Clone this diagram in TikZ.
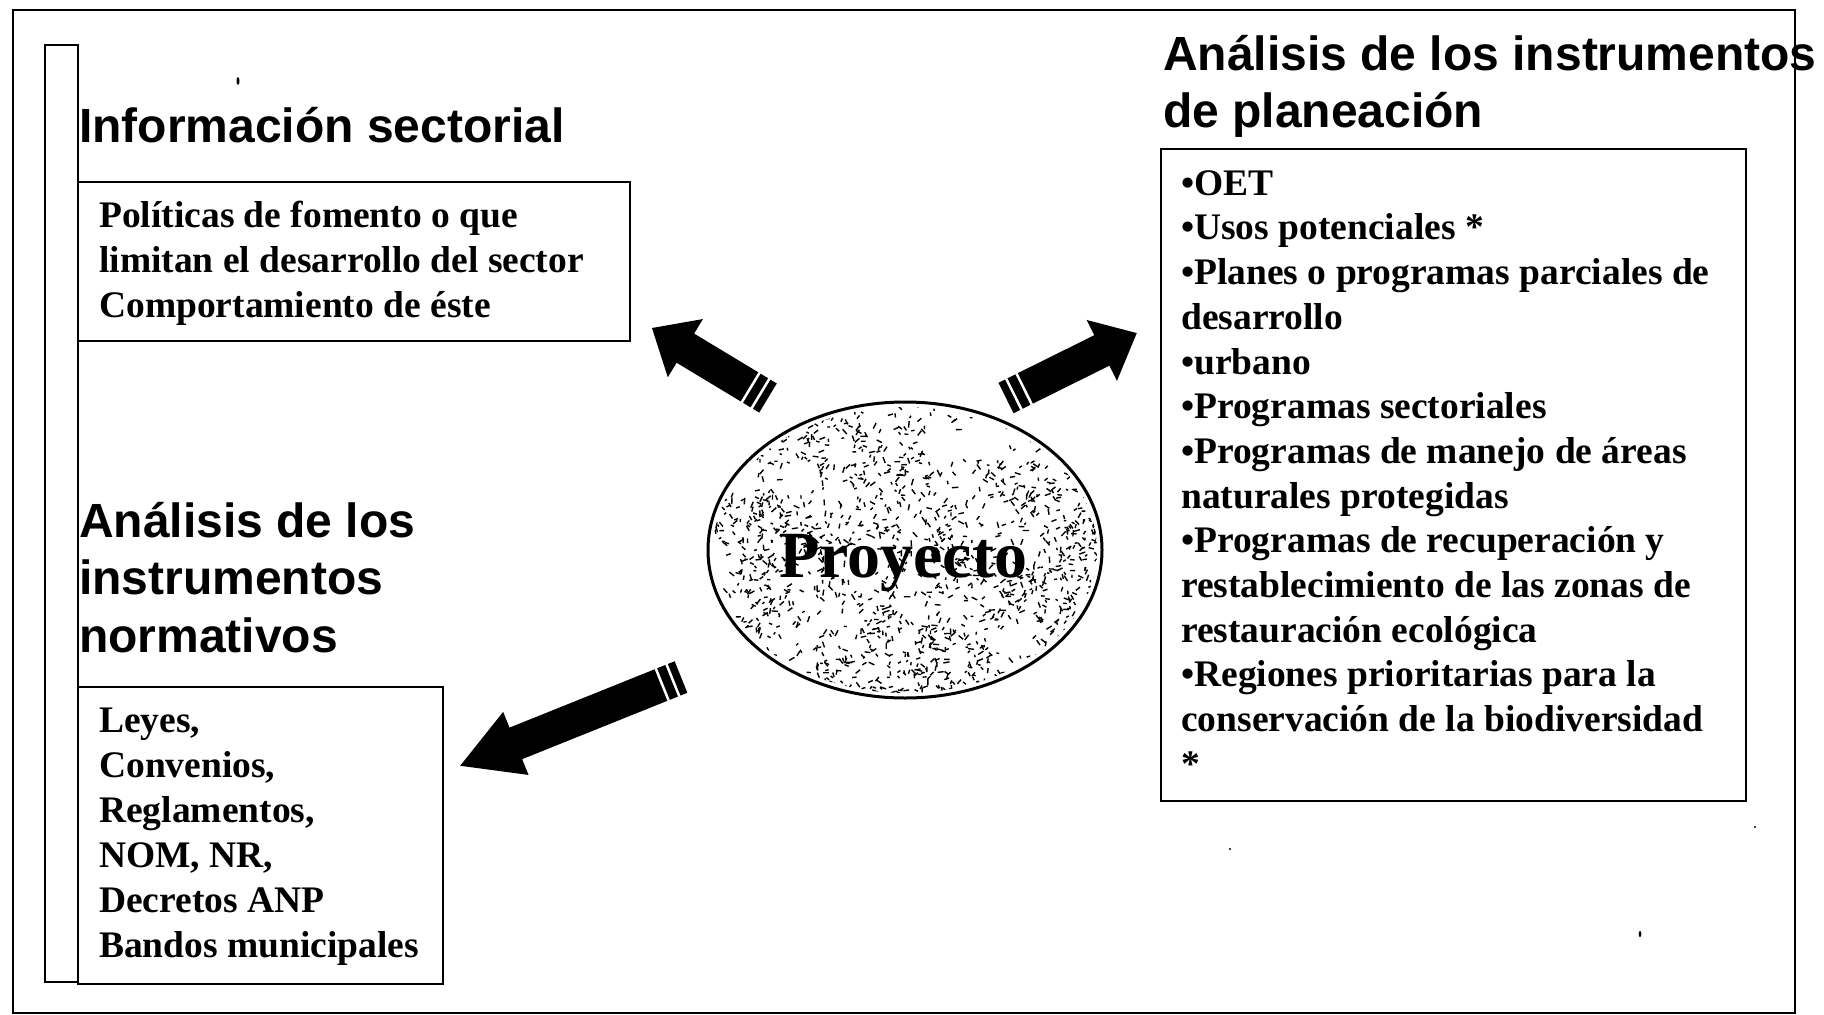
\documentclass[tikz,border=0pt]{standalone}
\usepackage{fontspec}
\setmainfont{Liberation Serif}
\newfontfamily\headfont{Liberation Sans}
\usetikzlibrary{shapes.geometric}
\newcommand\blockarrow[4]{%
  \begin{scope}[shift={(#1)}, rotate=#2]
    \fill (0,-17) -- ({#3-#4},-17) -- ({#3-#4},-34) -- (#3,0) -- ({#3-#4},34) -- ({#3-#4},17) -- (0,17) -- cycle;
    \fill[white] (7.5,-19) rectangle (10,19);
    \fill[white] (19,-19) rectangle (21.5,19);
  \end{scope}}
\begin{document}
\begin{tikzpicture}[x=1pt,y=-1pt,
  frame/.style={draw, line width=2.2pt},
  infobox/.style={draw, line width=2pt, anchor=north west, inner sep=0pt},
  headtxt/.style={anchor=north west, inner sep=0pt, align=left, font={\headfont\bfseries\fontsize{48}{57.5}\selectfont}},
  bodytxt/.style={anchor=north west, inner sep=0pt, align=left, font={\bfseries\fontsize{37.5}{45}\selectfont}},
  speck/.style={line width=1.4pt}
]
\useasboundingbox (0,0) rectangle (1824,1015);
\fill[white] (0,0) rectangle (1824,1015);

% outer frame and inner bar
\node[frame, anchor=north west, inner sep=0pt, minimum width=1782pt, minimum height=1003pt] (outer) at (12,9) {};
\node[draw, line width=2pt, anchor=north west, inner sep=0pt, minimum width=33pt, minimum height=937pt] (bar) at (44,44) {};

% titles
\node[headtxt] (h1) at (79,94) {\rule{0pt}{1em}Información sectorial};
\node[headtxt] (h2) at (79,489) {\rule{0pt}{1em}Análisis de los\\instrumentos\\normativos};
\node[headtxt] (h3) at (1163,22) {\rule{0pt}{1em}Análisis de los instrumentos\\de planeación};

% boxes
\node[infobox, minimum width=552pt, minimum height=159pt] (b1) at (77,181) {};
\node[infobox, minimum width=365pt, minimum height=297pt] (b3) at (77,686) {};
\node[infobox, minimum width=585pt, minimum height=652pt] (b2) at (1160,148) {};

\node[bodytxt] (t1) at (99,189.5) {\rule{0pt}{1em}Políticas de fomento o que\\limitan el desarrollo del sector\\Comportamiento de éste};
\node[bodytxt] (t3) at (99,694.5) {\rule{0pt}{1em}Leyes,\\Convenios,\\Reglamentos,\\NOM, NR,\\Decretos ANP\\Bandos municipales};
\node[bodytxt, font={\bfseries\fontsize{37.5}{44.7}\selectfont}] (t2) at (1181,157.5) {\rule{0pt}{1em}•OET\\•Usos potenciales *\\•Planes o programas parciales de\\desarrollo\\•urbano\\•Programas sectoriales\\•Programas de manejo de áreas\\naturales protegidas\\•Programas de recuperación y\\restablecimiento de las zonas de\\restauración ecológica\\•Regiones prioritarias para la\\conservación de la biodiversidad\\*};

% project ellipse with clustered speckles
\pgfmathsetseed{4711}
\begin{scope}
  \clip (905,550) ellipse [x radius=192, y radius=143];
  \foreach \i in {1,...,420}{
    \pgfmathsetmacro\cx{708+394*rnd}
    \pgfmathsetmacro\cy{402+296*rnd}
    \foreach \j in {1,...,4}{
      \pgfmathsetmacro\sx{\cx+14*rand}
      \pgfmathsetmacro\sy{\cy+14*rand}
      \pgfmathsetmacro\sa{360*rnd}
      \pgfmathsetmacro\sl{2.5+4*rnd}
      \draw[speck] (\sx,\sy) -- ++(\sa:\sl);
    }
  }
\end{scope}
\node[ellipse, draw, line width=3pt, minimum width=394pt, minimum height=296pt, inner sep=0pt] (proj) at (905,550) {};
\node[anchor=base, inner sep=0pt, font={\bfseries\fontsize{66}{70}\selectfont}] (projlabel) at (903,577) {Proyecto};

% block arrows
\coordinate (a1) at (768,398);
\coordinate (a2) at (1006,398);
\coordinate (a3) at (681,677);
\blockarrow{a1}{148.9}{135.5}{39}
\blockarrow{a2}{26.4}{146}{39}
\blockarrow{a3}{201.9}{238}{60}

% scan marks
\fill (238,81) ellipse [x radius=1.5, y radius=4];
\fill (1230,849) circle [radius=1.2];
\fill (1640,934) ellipse [x radius=1.3, y radius=3];
\fill (1755,827) circle [radius=1.2];
\end{tikzpicture}
\end{document}
